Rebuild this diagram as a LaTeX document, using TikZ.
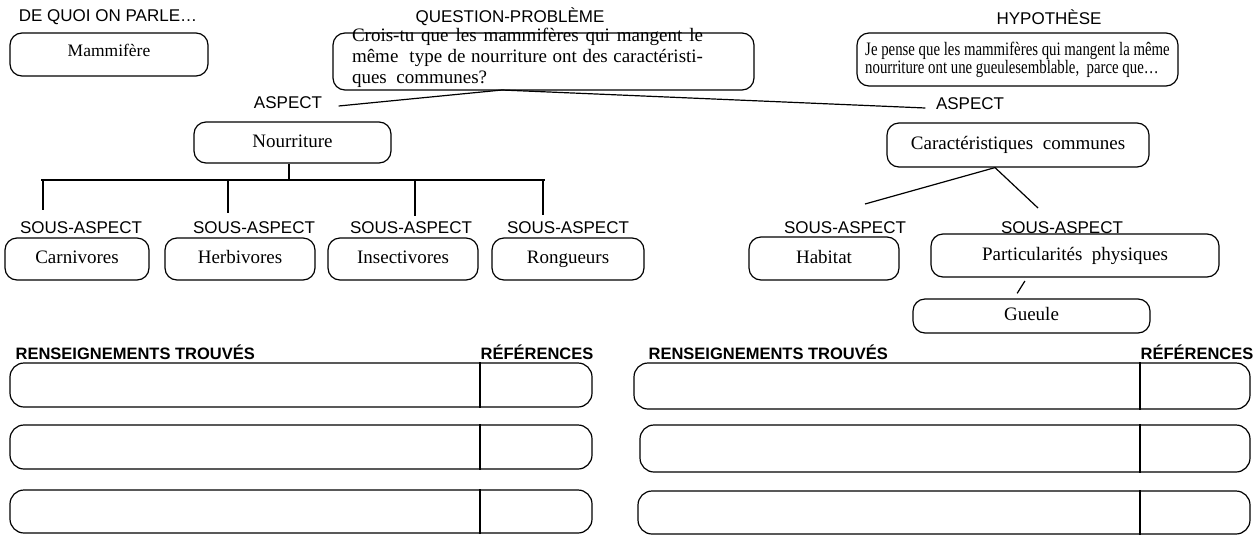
\documentclass[tikz,border=0pt]{standalone}
\usepackage{fontspec}
\setmainfont{Liberation Serif}
\setsansfont{Liberation Sans}
\newfontfamily\condserif[FakeStretch=0.78]{Liberation Serif}

\begin{document}
\begin{tikzpicture}[x=1pt,y=-1pt,line width=1.2pt,
	box/.style={draw,rectangle,rounded corners=12pt,inner sep=0pt,text height=13pt,text depth=4pt,font=\fontsize{19}{21}\selectfont},
	tag/.style={inner sep=0pt,font=\sffamily\fontsize{17}{20}\selectfont},
	head/.style={inner sep=0pt,anchor=base west,font=\sffamily\bfseries\fontsize{16.5}{20}\selectfont},
	row/.style={draw,rectangle,rounded corners=14pt,inner sep=0pt}]

	\useasboundingbox (0,0) rectangle (1260,536);

	\node[tag] (about) at (108,17) {DE QUOI ON PARLE…};
	\node[tag] (quest) at (510,17) {QUESTION-PROBLÈME};
	\node[tag] (hypo) at (1049,17) {HYPOTHÈSE};

	\node[box,font=\fontsize{17.5}{20}\selectfont,text depth=9pt,minimum width=198pt,minimum height=43pt] (mammal) at (109,54.5) {Mammifère};
	\node[box,minimum width=421pt,minimum height=57pt] (question) at (543.5,61.5) {};
	\node[text width=351pt,align=justify,inner sep=0pt,font=\fontsize{19}{21}\selectfont] (qtext) at (527.5,58) {Crois-tu que les mammifères qui mangent le\linebreak même\ \ type de nourriture ont des caractéristi-\linebreak ques\ \ communes?};
	\node[box,text height=,text depth=,minimum width=321pt,minimum height=53pt,align=left,font=\condserif\fontsize{19}{17}\selectfont] (hypothesis) at (1017.5,59.5) {Je pense que les mammifères qui mangent la même\\nourriture ont une gueulesemblable,\ \ parce que…};

	\node[tag] (aspectA) at (288,103) {ASPECT};
	\node[tag] (aspectB) at (970,104) {ASPECT};
	\coordinate (fork) at (502,90);
	\draw ([xshift=16pt,yshift=-3pt]aspectA.east) -- (fork) -- ([xshift=-10pt,yshift=-4pt]aspectB.west);

	\node[box,minimum width=197pt,minimum height=41pt] (food) at (292.5,142.5) {Nourriture};
	\coordinate (bar) at (289,180);
	\coordinate (barL) at (41,180);
	\coordinate (barR) at (545,180);
	\draw (food.south -| bar) -- (bar);
	\draw[line width=2pt] (barL) -- (barR);

	\coordinate (dropA) at (43,210);
	\coordinate (dropB) at (228,213);
	\coordinate (dropC) at (415,216);
	\coordinate (dropD) at (543,215);
	\foreach \d in {dropA,dropB,dropC,dropD}
		\draw[line width=1.6pt] (\d |- bar) -- (\d);

	\node[tag] (subA) at (81,228) {SOUS-ASPECT};
	\node[tag] (subB) at (254,228) {SOUS-ASPECT};
	\node[tag] (subC) at (411,228) {SOUS-ASPECT};
	\node[tag] (subD) at (568,228) {SOUS-ASPECT};

	\node[box,minimum width=144pt,minimum height=42pt] (carn) at (77,259) {Carnivores};
	\node[box,minimum width=150pt,minimum height=42pt] (herb) at (240,259) {Herbivores};
	\node[box,minimum width=150pt,minimum height=42pt] (insect) at (403,259) {Insectivores};
	\node[box,minimum width=152pt,minimum height=42pt] (rodent) at (568,259) {Rongueurs};

	\node[box,minimum width=262pt,minimum height=44pt] (traits) at (1018,145) {Caractéristiques\ \ communes};
	\coordinate (toHab) at (865,204);
	\coordinate (toPhys) at (1038,208);
	\draw (toHab) -- ([xshift=-23pt]traits.south) -- (toPhys);

	\node[tag] (subE) at (845,228) {SOUS-ASPECT};
	\node[tag] (subF) at (1062,228) {SOUS-ASPECT};

	\node[box,minimum width=150pt,minimum height=43pt] (habitat) at (824,258.5) {Habitat};
	\node[box,minimum width=288pt,minimum height=43pt] (physical) at (1075,255.5) {Particularités\ \ physiques};
	\node[box,minimum width=237pt,minimum height=34pt] (mouth) at (1031.5,316) {Gueule};
	\draw[shorten <=4pt,shorten >=6pt] ([xshift=-48pt]physical.south) -- ([xshift=-17.5pt]mouth.north);

	\node[head] (foundA) at (15,359) {RENSEIGNEMENTS TROUVÉS};
	\node[head] (refsA) at (480,359) {RÉFÉRENCES};
	\node[head] (foundB) at (648,359) {RENSEIGNEMENTS TROUVÉS};
	\node[head] (refsB) at (1140,359) {RÉFÉRENCES};

	\node[row,minimum width=582pt,minimum height=44pt] (rowA1) at (301,385) {};
	\node[row,minimum width=582pt,minimum height=44pt] (rowA2) at (301,447) {};
	\node[row,minimum width=582pt,minimum height=43pt] (rowA3) at (301,511.5) {};
	\node[row,minimum width=616pt,minimum height=46pt] (rowB1) at (942,386) {};
	\node[row,minimum width=610pt,minimum height=47pt] (rowB2) at (945,448.5) {};
	\node[row,minimum width=612pt,minimum height=43pt] (rowB3) at (944,512.5) {};

	\foreach \r in {rowA1,rowA2,rowA3}
		\draw (refsA.west |- \r.north) -- (refsA.west |- \r.south);
	\foreach \r in {rowB1,rowB2,rowB3}
		\draw (refsB.west |- \r.north) -- (refsB.west |- \r.south);

\end{tikzpicture}
\end{document}
